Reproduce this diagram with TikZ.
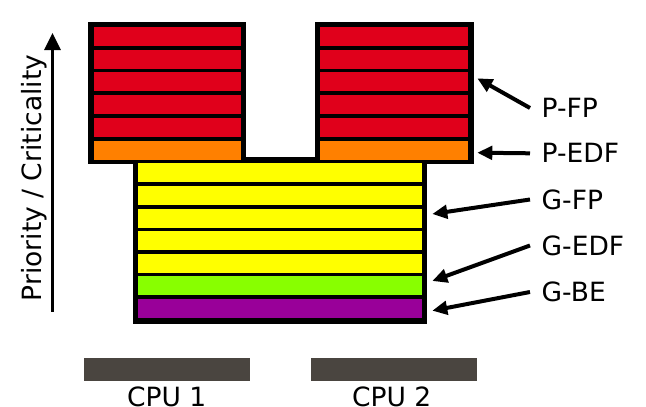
\documentclass[tikz,border=0pt]{standalone}
\usepackage{fontspec}
\setmainfont{DejaVu Sans}
\usetikzlibrary{arrows.meta}

\definecolor{pfp}{RGB}{224,0,27}
\definecolor{pedf}{RGB}{255,128,0}
\definecolor{gfp}{RGB}{255,255,0}
\definecolor{gedf}{RGB}{136,255,0}
\definecolor{gbe}{RGB}{153,0,153}
\definecolor{cpugrey}{RGB}{74,69,64}

\begin{document}
\begin{tikzpicture}[x=1pt,y=-1pt,
  frame/.style={fill=black, draw=none},
  bar/.style={draw=none, inner sep=0pt, outer sep=0pt, anchor=north west, minimum height=19pt},
  pbar/.style={bar, minimum width=147.5pt},
  gbar/.style={bar, minimum width=283.7pt},
  cpubar/.style={fill=cpugrey, draw=none},
  lbl/.style={anchor=west, inner xsep=11.5pt, inner ysep=0pt, font=\fontsize{26.5}{30}\selectfont},
  cpulbl/.style={anchor=base, inner sep=0pt, font=\fontsize{26.5}{30}\selectfont},
  ptr/.style={line width=4pt, -{Triangle[length=15pt,width=13.5pt]}}
]
\useasboundingbox (0,0) rectangle (646,407);

% black outline of the two partitions and the shared global block
\fill[frame] (88,21.5) rectangle (246,164);
\fill[frame] (314.5,21.5) rectangle (473.5,164);
\fill[frame] (133.3,156.7) rectangle (427.3,323.5);

% partitioned levels, CPU 1
\foreach \i in {0,...,4}
  \node[pbar, fill=pfp] (l\i) at (93.5,26.7+22.8*\i) {};
\node[pbar, fill=pedf] (ledf) at (93.5,140.7) {};

% partitioned levels, CPU 2
\foreach \i in {0,...,4}
  \node[pbar, fill=pfp] (r\i) at (320,26.7+22.8*\i) {};
\node[pbar, fill=pedf] (redf) at (320,140.7) {};

% global levels
\foreach \i in {0,...,4}
  \node[gbar, fill=gfp] (g\i) at (138.3,163.3+22.6*\i) {};
\node[gbar, fill=gedf] (gedfbar) at (138.3,276.3) {};
\node[gbar, fill=gbe] (gbebar) at (138.3,298.9) {};

% priority axis
\coordinate (prlow) at (52.5,311.7);
\coordinate (prhigh) at (52.5,33);
\draw[line width=3.2pt, -{Triangle[length=17pt,width=16pt]}] (prlow) -- (prhigh);
\node[rotate=90, anchor=base, inner sep=0pt, font=\fontsize{26.5}{30}\selectfont] (axis) at (41.5,178) {Priority / Criticality};

% scheduler labels with pointers
\node[lbl] (tPFP) at (530,108) {P-FP};
\node[lbl] (tPEDF) at (530,153.3) {P-EDF};
\node[lbl] (tGFP) at (530,199.5) {G-FP};
\node[lbl] (tGEDF) at (530,245.5) {G-EDF};
\node[lbl] (tGBE) at (530,292) {G-BE};

\coordinate (aPFP) at (477.3,78.3);
\coordinate (aPEDF) at (477.3,152.7);
\coordinate (aGFP) at (432.3,214);
\coordinate (aGEDF) at (432.3,281);
\coordinate (aGBE) at (432.3,310.7);

\draw[ptr] (tPFP.west) -- (aPFP);
\draw[ptr] (tPEDF.west) -- (aPEDF);
\draw[ptr] (tGFP.west) -- (aGFP);
\draw[ptr] (tGEDF.west) -- (aGEDF);
\draw[ptr] (tGBE.west) -- (aGBE);

% processors
\fill[cpubar] (84,358.3) rectangle (250,380.7);
\fill[cpubar] (310.7,358.3) rectangle (476.7,380.7);
\node[cpulbl] (cpu1) at (166.7,406) {CPU 1};
\node[cpulbl] (cpu2) at (391.7,406) {CPU 2};
\end{tikzpicture}
\end{document}
